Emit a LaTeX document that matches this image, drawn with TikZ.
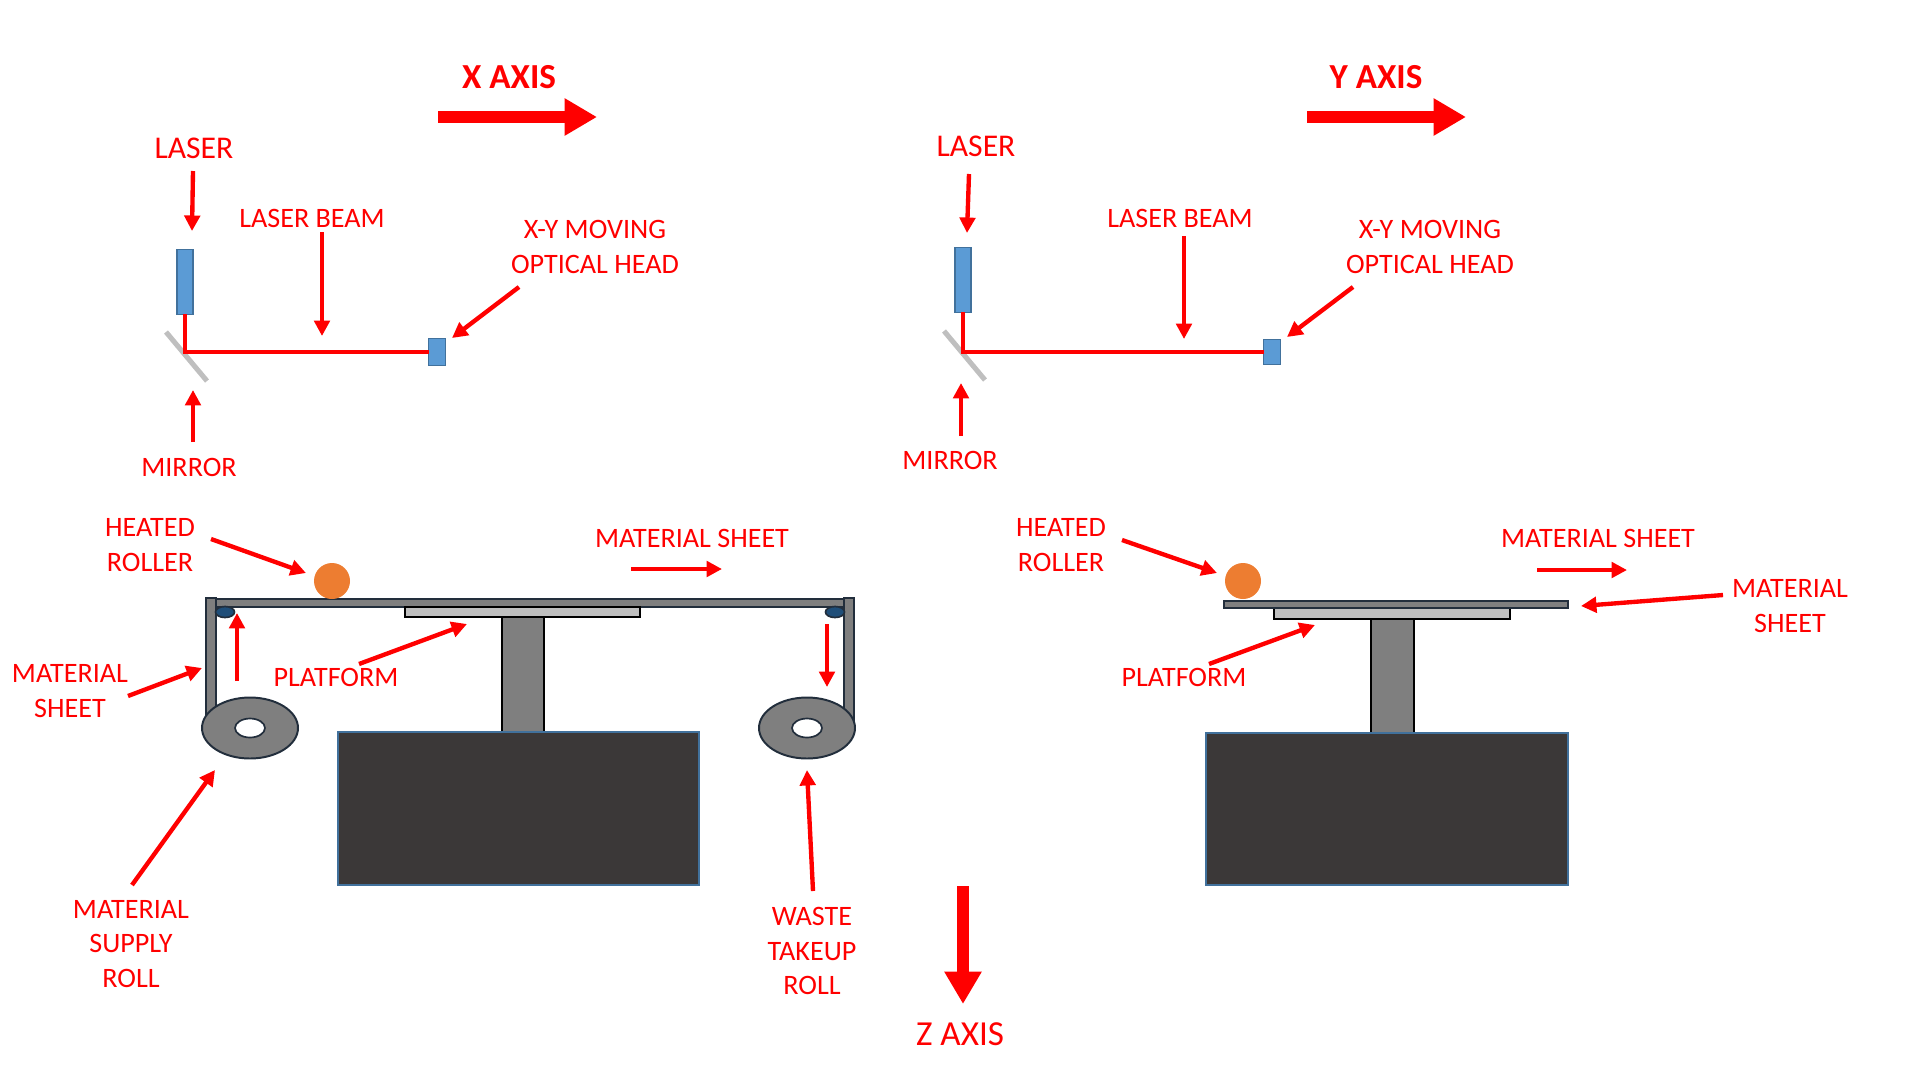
\documentclass[tikz,border=0pt]{standalone}
\usepackage{fontspec}
\setmainfont{Carlito}
\usetikzlibrary{arrows.meta}

\definecolor{callred}{RGB}{255,0,0}
\definecolor{optblue}{RGB}{91,155,213}
\definecolor{optedge}{RGB}{65,113,156}
\definecolor{sheetgray}{RGB}{127,127,127}
\definecolor{sheetedge}{RGB}{34,46,60}
\definecolor{platgray}{RGB}{191,191,191}
\definecolor{basedark}{RGB}{59,56,56}
\definecolor{idleblue}{RGB}{31,78,121}
\definecolor{rollorange}{RGB}{237,125,49}

\tikzset{
  lbl/.style={text=callred,font=\fontsize{20}{24.4}\selectfont,inner sep=0pt,align=center},
  biglbl/.style={text=callred,font=\fontsize{22.5}{27}\selectfont,inner sep=0pt},
  axislbl/.style={text=callred,inner sep=0pt},
  callout/.style={draw=callred,line width=3.1pt,-{Triangle[length=11pt,width=11pt]}},
  axisarrow/.style={draw=callred,line width=8pt,-{Triangle[length=23pt,width=25pt]}},
  optbox/.style={draw=optedge,fill=optblue,line width=1.2pt,inner sep=0pt,outer sep=0pt},
  beam/.style={draw=callred,line width=2.5pt},
  mirrorbar/.style={draw=platgray,line width=3.6pt},
  sheetbar/.style={draw=sheetedge,fill=sheetgray,line width=1.4pt},
  platbar/.style={draw=black,fill=platgray,line width=1.4pt},
  post/.style={draw=black,fill=sheetgray,line width=1pt},
  basebox/.style={draw=optedge,fill=basedark,line width=1.2pt},
}

\begin{document}
\begin{tikzpicture}[x=0.025cm,y=-0.025cm]
\useasboundingbox (0,0) rectangle (1920,1080);

% axes
\node[axislbl,font=\fontsize{25}{30}\selectfont\bfseries] (xaxis) at (509,77) {X AXIS};
\node[axislbl,font=\fontsize{25}{30}\selectfont\bfseries] (yaxis) at (1376,77) {Y AXIS};
\node[axislbl,font=\fontsize{25}{30}\selectfont] (zaxis) at (960,1034) {Z AXIS};
\coordinate (xa) at (438,117); \coordinate (xb) at (597,117);
\coordinate (ya) at (1307,117); \coordinate (yb) at (1466,117);
\coordinate (za) at (963,886); \coordinate (zb) at (963,1004);
\draw[axisarrow] (xa)--(xb);
\draw[axisarrow] (ya)--(yb);
\draw[axisarrow] (za)--(zb);

% optics, x view
\node[optbox,minimum width=0.4cm,minimum height=1.62cm] (laserx) at (185,282) {};
\node[optbox,minimum width=0.42cm,minimum height=0.68cm] (headx) at (437,352) {};
\coordinate (mirxa) at (166,332); \coordinate (mirxb) at (207,381);
\draw[mirrorbar] (mirxa)--(mirxb);
\draw[beam] (laserx.south) |- (headx.west);

% optics, y view
\node[optbox,minimum width=0.4cm,minimum height=1.62cm] (lasery) at (963,280) {};
\node[optbox,minimum width=0.42cm,minimum height=0.62cm] (heady) at (1272,352) {};
\coordinate (mirya) at (944,331); \coordinate (miryb) at (985,380);
\draw[mirrorbar] (mirya)--(miryb);
\draw[beam] (lasery.south) |- (heady.west);

% build stage, x view
\draw[sheetbar] (206,598) rectangle (216,720);
\draw[sheetbar] (844,598) rectangle (854,726);
\draw[sheetbar] (216,599) rectangle (844,607);
\draw[post] (502,617) rectangle (544,733);
\draw[platbar] (405,607) rectangle (640,617);
\draw[basebox] (338,732) rectangle (699,885);
\foreach \x in {225,835}
  {\draw[draw=sheetedge,fill=idleblue,line width=1.2pt] (\x,612) ellipse (9.5 and 5.5);}
\foreach \x in {250,807}
  {\draw[sheetbar] (\x,728) ellipse (48 and 30.5);
   \draw[draw=sheetedge,fill=white,line width=1.2pt] (\x,728) ellipse (15 and 9.5);}
\node[circle,fill=rollorange,minimum size=0.9cm,inner sep=0pt] (rollerx) at (332,581) {};

% build stage, y view
\draw[post] (1371,619) rectangle (1414,733);
\draw[platbar] (1274,608) rectangle (1510,619);
\draw[sheetbar] (1224,601) rectangle (1568,608);
\draw[basebox] (1206,733) rectangle (1568,885);
\node[circle,fill=rollorange,minimum size=0.9cm,inner sep=0pt] (rollery) at (1243,581) {};

% labels, x view
\node[biglbl] (laserxl) at (194,148) {LASER};
\node[lbl] (beamxl) at (312,218) {LASER BEAM};
\node[lbl] (headxl) at (595,247) {X-Y MOVING\\[0pt]OPTICAL HEAD};
\node[lbl] (mirxl) at (189,467) {MIRROR};
\node[lbl] (heatxl) at (150,545) {HEATED\\[0pt]ROLLER};
\node[lbl] (sheetxl) at (692,538) {MATERIAL SHEET};
\node[lbl] (sidexl) at (70,691) {MATERIAL\\[0pt]SHEET};
\node[lbl] (platxl) at (336,677) {PLATFORM};
\node[lbl] (supplyl) at (131,944) {MATERIAL\\[0pt]SUPPLY\\[0pt]ROLL};
\node[lbl] (wastel) at (812,951) {WASTE\\[0pt]TAKEUP\\[0pt]ROLL};

% labels, y view
\node[biglbl] (laseryl) at (976,146) {LASER};
\node[lbl] (beamyl) at (1180,218) {LASER BEAM};
\node[lbl] (headyl) at (1430,247) {X-Y MOVING\\[0pt]OPTICAL HEAD};
\node[lbl] (miryl) at (950,460) {MIRROR};
\node[lbl] (heatyl) at (1061,545) {HEATED\\[0pt]ROLLER};
\node[lbl] (sheetyl) at (1598,538) {MATERIAL SHEET};
\node[lbl] (sideyl) at (1790,606) {MATERIAL\\[0pt]SHEET};
\node[lbl] (platyl) at (1184,677) {PLATFORM};

% callouts, x view
\foreach \a/\b/\c/\d/\n in {193/171/192/231/lasx,322/232/322/336/beax,519/287/452/338/hedx,
  193/442/193/390/mirx,211/539/306/573/heax,128/696/202/668/sidx,237/681/237/613/upx,
  827/624/827/687/dnx,359/664/467/624/plax,631/569/722/569/shtx,132/885/215/770/supx,813/891/807/770/wasx}
  {\coordinate (\n a) at (\a,\b); \coordinate (\n b) at (\c,\d);
   \draw[callout] (\n a)--(\n b);}

% callouts, y view
\foreach \a/\b/\c/\d/\n in {969/174/967/233/lasy,1184/236/1184/339/beay,1353/287/1287/337/hedy,
  961/436/961/383/miry,1122/540/1217/573/heay,1209/664/1315/625/play,1537/570/1627/570/shty,
  1723/595/1581/606/sidy}
  {\coordinate (\n a) at (\a,\b); \coordinate (\n b) at (\c,\d);
   \draw[callout] (\n a)--(\n b);}
\end{tikzpicture}
\end{document}
